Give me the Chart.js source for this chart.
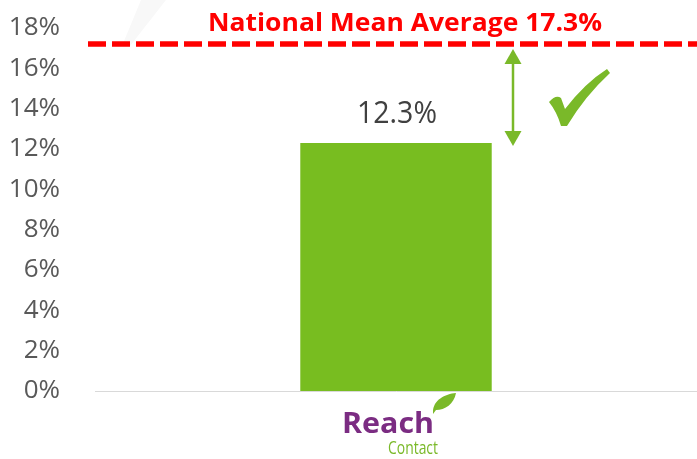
<!DOCTYPE html>
<html>
<head>
<meta charset="utf-8">
<script src="https://cdn.jsdelivr.net/npm/chart.js@4/dist/chart.umd.min.js"></script>
<style>
  html, body { margin: 0; padding: 0; background: #ffffff; }
  #wrap { width: 697px; height: 459px; position: relative; }
</style>
</head>
<body>
<div id="wrap"><canvas id="c" width="697" height="459"></canvas></div>
<script>
// ---- data ----
const categories = ['Reach Contact'];
const values = [12.3];
const valueLabels = ['12.3%'];
const nationalMean = 17.3;
const nationalLabel = 'National Mean Average 17.3%';
const yMin = 0;
const yMax = 18;
const yStep = 2;
const logoTop = 'Reach';
const logoBottom = 'Contact';

const FONT = "'Open Sans', 'Liberation Sans', sans-serif";

function drawFitted(ctx, text, cx, baseline, size, weight, color, width) {
  ctx.save();
  ctx.font = weight + ' ' + size + 'px ' + FONT;
  const w = ctx.measureText(text).width;
  const sx = width / w;
  ctx.translate(cx, baseline);
  ctx.scale(sx, 1);
  ctx.fillStyle = color;
  ctx.textAlign = 'center';
  ctx.textBaseline = 'alphabetic';
  ctx.fillText(text, 0, 0);
  ctx.restore();
}

const overlay = {
  id: 'overlay',
  beforeDraw(chart) {
    const ctx = chart.ctx;
    ctx.save();
    ctx.fillStyle = '#f8f8f8';
    ctx.beginPath();
    ctx.moveTo(141, 0); ctx.lineTo(166, 0); ctx.lineTo(130, 46); ctx.lineTo(122, 46);
    ctx.closePath(); ctx.fill();
    ctx.restore();
  },
  afterDatasetsDraw(chart) {
    const ctx = chart.ctx;
    const y = chart.scales.y;
    const x = chart.scales.x;
    const meta = chart.getDatasetMeta(0);

    meta.data.forEach((bar, i) => {
      drawFitted(ctx, valueLabels[i], bar.x + 1, bar.y - 20, 31, 'normal', '#404040', 80);
    });

    const yMean = y.getPixelForValue(nationalMean) + 2;
    ctx.save();
    ctx.strokeStyle = '#ff0000';
    ctx.lineWidth = 5.5;
    ctx.setLineDash([18, 6]);
    ctx.beginPath();
    ctx.moveTo(88, yMean);
    ctx.lineTo(chart.width, yMean);
    ctx.stroke();
    ctx.restore();

    drawFitted(ctx, nationalLabel, 405, 31, 25, 'bold', '#ff0000', 394);

    const bar = meta.data[0];
    const ax = 513;
    const top = yMean + 5;
    const bottom = bar.y + 3;
    const green = '#7ab929';
    ctx.save();
    ctx.strokeStyle = green;
    ctx.fillStyle = green;
    ctx.lineWidth = 2.5;
    ctx.beginPath();
    ctx.moveTo(ax, top + 10); ctx.lineTo(ax, bottom - 10); ctx.stroke();
    ctx.beginPath();
    ctx.moveTo(ax, top); ctx.lineTo(ax - 8.5, top + 15); ctx.lineTo(ax + 8.5, top + 15); ctx.closePath(); ctx.fill();
    ctx.beginPath();
    ctx.moveTo(ax, bottom); ctx.lineTo(ax - 8.5, bottom - 15); ctx.lineTo(ax + 8.5, bottom - 15); ctx.closePath(); ctx.fill();

    ctx.beginPath();
    ctx.moveTo(549, 102);
    ctx.quadraticCurveTo(556, 94, 561, 98);
    ctx.lineTo(565, 109);
    ctx.quadraticCurveTo(585, 83, 607, 69);
    ctx.lineTo(610, 73);
    ctx.quadraticCurveTo(585, 96, 567, 126);
    ctx.lineTo(561, 126);
    ctx.quadraticCurveTo(557, 112, 549, 102);
    ctx.closePath();
    ctx.fill();
    ctx.restore();

    const lx = x.getPixelForValue(0);
    ctx.save();
    drawFitted(ctx, logoTop, lx - 8, 433, 28, 'bold', '#7b2c82', 92);
    drawFitted(ctx, logoBottom, lx + 17, 454, 18, 'normal', '#7ab929', 50);
    ctx.fillStyle = '#7ab929';
    ctx.beginPath();
    ctx.moveTo(433, 412);
    ctx.bezierCurveTo(433, 400, 445, 394, 456, 393);
    ctx.bezierCurveTo(454, 404, 445, 410, 436, 410);
    ctx.lineTo(433, 414);
    ctx.closePath();
    ctx.fill();
    ctx.restore();
  }
};

new Chart(document.getElementById('c'), {
  type: 'bar',
  data: {
    labels: categories,
    datasets: [{
      data: values,
      backgroundColor: '#78bd20',
      borderWidth: 0,
      categoryPercentage: 1,
      barPercentage: 0.318
    }]
  },
  options: {
    responsive: false,
    animation: false,
    devicePixelRatio: 1,
    layout: { padding: { top: 28, right: 0, bottom: 68, left: 0 } },
    plugins: { legend: { display: false }, tooltip: { enabled: false } },
    scales: {
      x: {
        grid: { display: false, drawTicks: false },
        border: { display: true, color: '#d9d9d9', width: 1 },
        ticks: { display: false },
        afterFit(scale) { scale.height = 0; scale.paddingLeft = 0; scale.paddingRight = 0; }
      },
      y: {
        min: yMin, max: yMax,
        afterFit(scale) { scale.width = 95; scale.paddingTop = 0; scale.paddingBottom = 0; },
        grid: { display: false, drawTicks: false },
        border: { display: false },
        ticks: {
          stepSize: yStep,
          padding: 35,
          color: '#595959',
          font: { family: FONT, size: 26 },
          callback: v => v + '%'
        }
      }
    }
  },
  plugins: [overlay]
});
</script>
</body>
</html>
